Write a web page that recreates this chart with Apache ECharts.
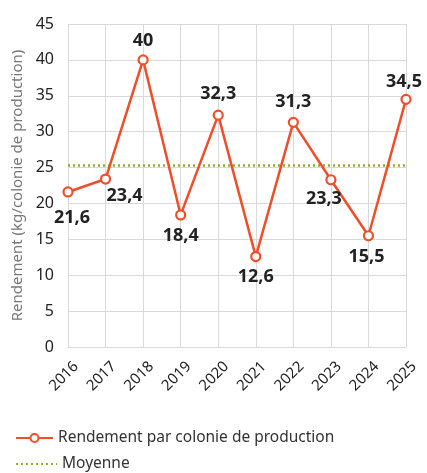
<!DOCTYPE html>
<html><head><meta charset="utf-8">
<script src="https://cdn.jsdelivr.net/npm/echarts@6/dist/echarts.min.js"></script>
<style>html,body{margin:0;padding:0;background:#fff}#c{width:427px;height:473px}</style>
</head><body><div id="c"></div>
<script>
const categories = ['2016','2017','2018','2019','2020','2021','2022','2023','2024','2025'];
const rendement = [21.6, 23.4, 40, 18.4, 32.3, 12.6, 31.3, 23.3, 15.5, 34.5];
const moyenne = [25.3, 25.3, 25.3, 25.3, 25.3, 25.3, 25.3, 25.3, 25.3, 25.3];
const labelOffset = [[4,26],[19,17],[0,-19],[0,21],[0,-21],[0,20],[0,-20],[-7,19],[-2,21],[-2,-17]];
const yTicks = {min:0, max:45, interval:5};
const FONT = '"Noto Sans", "DejaVu Sans", sans-serif';

const chart = echarts.init(document.getElementById('c'), null, {renderer:'canvas'});
chart.setOption({
  animation:false,
  backgroundColor:'#fff',
  grid:{left:68, right:21, top:24, bottom:126, containLabel:false},
  xAxis:{
    type:'category', data:categories, boundaryGap:false,
    axisLine:{show:true, lineStyle:{color:'#d9d9d9'}},
    axisTick:{show:false},
    splitLine:{show:true, lineStyle:{color:'#d9d9d9', width:1}},
    axisLabel:{rotate:45, color:'#222', fontSize:15, fontFamily:FONT, margin:9, interval:0,
      verticalAlign:'top', padding:[4,0,0,0]}
  },
  yAxis:{
    type:'value', min:yTicks.min, max:yTicks.max, interval:yTicks.interval,
    name:'Rendement (kg/colonie de production)', nameLocation:'middle', nameGap:42,
    nameTextStyle:{color:'#777', fontSize:15, fontFamily:FONT},
    axisLine:{show:false}, axisTick:{show:false},
    splitLine:{lineStyle:{color:'#d9d9d9', width:1}},
    axisLabel:{color:'#222', fontSize:16, fontFamily:FONT, margin:14}
  },
  legend:[
    {
      orient:'vertical', left:15, top:430, padding:0, itemWidth:37, itemHeight:10,
      textStyle:{color:'#333', fontSize:15.5, fontFamily:FONT},
      data:['Rendement par colonie de production']
    },
    {
      orient:'vertical', left:15, top:456, padding:0, itemWidth:41, itemHeight:10,
      textStyle:{color:'#333', fontSize:15.5, fontFamily:FONT},
      data:[{name:'Moyenne', itemStyle:{opacity:0}}]
    }
  ],
  series:[
    {
      name:'Moyenne', type:'line', data:moyenne, symbol:'none', z:1,
      lineStyle:{color:'#8fae2f', width:2.5, type:[2,3]},
      itemStyle:{color:'#8fae2f'}
    },
    {
      name:'Rendement par colonie de production', type:'line', data:rendement.map((v,i)=>({
        value:v, label:{offset:labelOffset[i]}
      })),
      symbol:'circle', symbolSize:9, z:3,
      lineStyle:{color:'#f04e2a', width:2.5},
      itemStyle:{color:'#fff', borderColor:'#f04e2a', borderWidth:2.2},
      label:{show:true, position:'inside', color:'#222', fontSize:18, fontWeight:'bold', fontFamily:FONT,
        formatter:p=>String(p.value).replace('.',',')}
    }
  ]
});
</script></body></html>
